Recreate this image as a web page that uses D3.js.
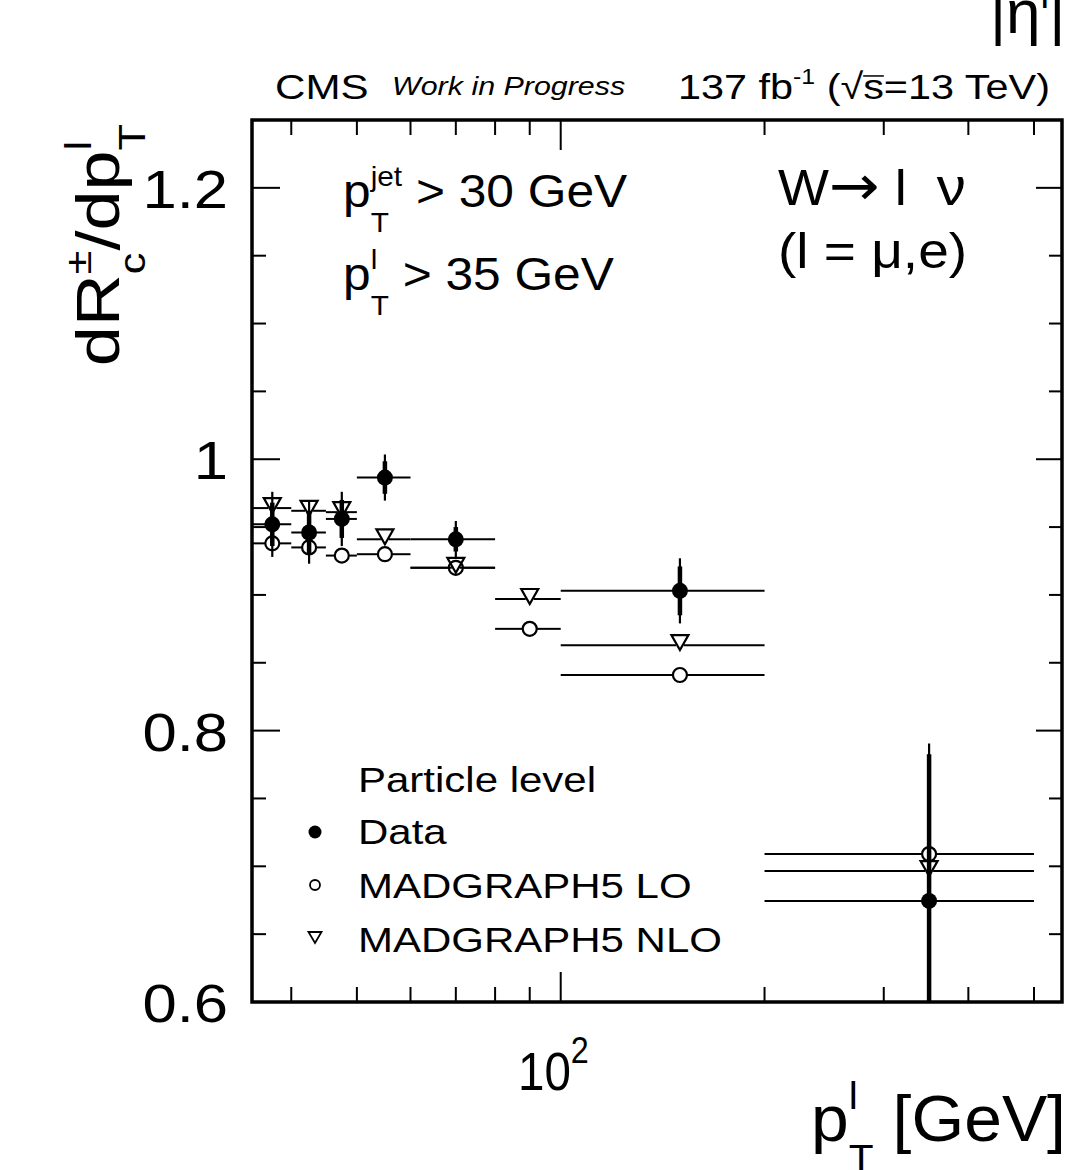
<!DOCTYPE html>
<html><head><meta charset="utf-8">
<script src="https://cdn.jsdelivr.net/npm/d3@7"></script>
<style>
body{margin:0;background:#fff}
text{font-family:"Liberation Sans",Arial,Helvetica,sans-serif;fill:#000;white-space:pre}
</style>
</head><body>
<svg id="chart" width="1082" height="1170"></svg>
<script>
// ---------- data ----------
const mcLow  = [35, 40, 45, 50, 60, 80, 100, 200];
const mcHigh = [40, 45, 50, 60, 80, 100, 200, 500];
const loValues  = [0.938, 0.935, 0.929, 0.930, 0.920, 0.875, 0.841, 0.709];
const nloValues = [0.964, 0.962, 0.961, 0.941, 0.920, 0.897, 0.863, 0.6965];
const dataLow  = [35, 40, 45, 50, 60, 100, 200];
const dataHigh = [40, 45, 50, 60, 80, 200, 500];
const dataValues = [0.952, 0.946, 0.956, 0.9865, 0.941, 0.903, 0.6745];
const dataStat   = [0.016, 0.016, 0.014, 0.012, 0.009, 0.018, 0.108];
const dataTotal  = [0.024, 0.023, 0.020, 0.017, 0.0135, 0.024, 0.116];
const yMajorTicks = [0.6, 0.8, 1.0, 1.2];
const yTickLabels = ["0.6", "0.8", "1", "1.2"];
const yMinorTicks = [0.65, 0.7, 0.75, 0.85, 0.9, 0.95, 1.05, 1.1, 1.15];
const xMajorTicks = [100];
const xMinorTicks = [40, 50, 60, 70, 80, 90, 200, 300, 400, 500];
const legendTitle = "Particle level";
const legendLabels = ["Data", "MADGRAPH5 LO", "MADGRAPH5 NLO"];

// ---------- layout ----------
const L = 252, R = 1062, T = 120, B = 1002;
const svg = d3.select("#chart");
const x = d3.scaleLog().domain([35, 550]).range([L, R]);
const y = d3.scaleLinear().domain([0.6, 1.25]).range([B, T]);

// rich text helper: parts are strings, {text, family, overline, scale} or {sub, sup}
function rich(x0, y0, parts, size, opts = {}) {
  const sx = opts.sx || 1;
  const g = svg.append("g");
  const inner = g.append("g");
  let cx = 0;
  const ss = size * (opts.scriptScale || 0.62);
  parts.forEach(p => {
    if (typeof p === "string" || p.text !== undefined) {
      const s = typeof p === "string" ? p : p.text;
      const t = inner.append("text").attr("x", cx).attr("y", 0)
        .attr("font-size", size * (p.scale || 1)).text(s);
      if (p.family) t.style("font-family", p.family);
      if (opts.italic) t.attr("font-style", "italic");
      const w = t.node().getComputedTextLength();
      if (p.overline) {
        inner.append("line").attr("x1", cx).attr("x2", cx + w)
          .attr("y1", -size * 0.64).attr("y2", -size * 0.64)
          .attr("stroke", "#000").attr("stroke-width", 1.5);
      }
      cx += w;
    } else {
      let w = 0;
      if (p.sup !== undefined) {
        const t = inner.append("text").attr("x", cx).attr("y", -size * (opts.supRaise || 0.45))
          .attr("font-size", ss).text(p.sup);
        w = Math.max(w, t.node().getComputedTextLength());
      }
      if (p.sub !== undefined) {
        const t = inner.append("text").attr("x", cx).attr("y", size * (opts.subDrop || 0.5))
          .attr("font-size", ss).text(p.sub);
        w = Math.max(w, t.node().getComputedTextLength());
      }
      cx += w + (p.pad || 0);
    }
  });
  const off = opts.anchor === "end" ? -cx : opts.anchor === "middle" ? -cx / 2 : 0;
  inner.attr("transform", `translate(${off},0)`);
  g.attr("transform", `translate(${x0},${y0}) scale(${sx},1)` + (opts.rotate ? ` rotate(${opts.rotate})` : ""));
  return g;
}

// ---------- frame & ticks ----------
const axes = svg.append("g").attr("stroke", "#000").attr("fill", "none");
const tk = (x1, y1, x2, y2, w) => axes.append("line").attr("x1", x1).attr("y1", y1)
  .attr("x2", x2).attr("y2", y2).attr("stroke-width", w || 2);

xMajorTicks.forEach(v => { tk(x(v), B, x(v), B - 30); tk(x(v), T, x(v), T + 30); });
xMinorTicks.forEach(v => { tk(x(v), B, x(v), B - 15); tk(x(v), T, x(v), T + 15); });
yMajorTicks.forEach(v => { tk(L, y(v), L + 28, y(v)); tk(R, y(v), R - 26, y(v)); });
yMinorTicks.forEach(v => { tk(L, y(v), L + 14, y(v)); tk(R, y(v), R - 13, y(v)); });
axes.append("rect").attr("x", L).attr("y", T).attr("width", R - L).attr("height", B - T)
  .attr("stroke-width", 3.5);

// ---------- tick labels ----------
yMajorTicks.forEach((v, i) => {
  rich(228, y(v) + 20, [yTickLabels[i]], 54, { anchor: "end", sx: 1.14 });
});
rich(518, 1090, ["10", { sup: "2" }], 54, { sx: 0.88, supRaise: 0.5, scriptScale: 0.68 });

// ---------- axis titles ----------
rich(1066, 1141, ["p", { sub: "T", sup: "l" }, " [GeV]"], 64,
  { anchor: "end", sx: 1.06, subDrop: 0.48, supRaise: 0.5, scriptScale: 0.6 });
rich(119, 124, ["dR", { sub: "c", sup: "\u00b1" }, "/dp", { sub: "T", sup: "l" }], 72,
  { anchor: "end", rotate: -90, sx: 0.86, subDrop: 0.42, supRaise: 0.45, scriptScale: 0.6 });

// ---------- header ----------
rich(275, 99, ["CMS"], 36, { sx: 1.17 });
rich(392, 95, ["Work in Progress"], 26, { sx: 1.17, italic: true });
rich(1050, 99, ["137 fb", { sup: "-1" }, " (\u221a", { text: "s", overline: true }, "=13 TeV)"], 36,
  { anchor: "end", sx: 1.15, supRaise: 0.42, scriptScale: 0.6 });
rich(990, 33, ["|\u03b7", { sup: "l" }, "|"], 62, { sx: 1.0, supRaise: 0.4 });

// ---------- annotations ----------
rich(343, 207, ["p", { sub: "T", sup: "jet" }, " > 30 GeV"], 46, { sx: 1.08, subDrop: 0.55, supRaise: 0.45, scriptScale: 0.6 });
rich(343, 290, ["p", { sub: "T", sup: "l" }, " > 35 GeV"], 46, { sx: 1.08, subDrop: 0.55, supRaise: 0.45, scriptScale: 0.6 });
rich(778, 205, ["W", { text: "\u2192", family: "DejaVu Sans", scale: 1.12 }, " l  ", { text: "\u03bd", scale: 1.08 }], 50, { sx: 1.08 });
rich(778, 268, ["(l = \u03bc,e)"], 50, { sx: 1.1 });

// ---------- data marks ----------
svg.append("clipPath").attr("id", "clip").append("rect")
  .attr("x", L).attr("y", T).attr("width", R - L).attr("height", B - T);
const plot = svg.append("g").attr("clip-path", "url(#clip)");
const mid = (a, b) => (a + b) / 2;
const tri = (cx, cy, hw, up, dn) => `M${cx - hw},${cy - up}L${cx + hw},${cy - up}L${cx},${cy + dn}Z`;

function drawMC(values, shape) {
  values.forEach((v, i) => {
    const cx = x(mid(mcLow[i], mcHigh[i])), cy = y(v);
    const gap = shape === "circle" ? 7 : 4;
    plot.append("line").attr("x1", x(mcLow[i])).attr("x2", cx - gap).attr("y1", cy).attr("y2", cy)
      .attr("stroke", "#000").attr("stroke-width", 2);
    plot.append("line").attr("x1", cx + gap).attr("x2", x(mcHigh[i])).attr("y1", cy).attr("y2", cy)
      .attr("stroke", "#000").attr("stroke-width", 2);
    if (shape === "circle") {
      plot.append("circle").attr("cx", cx).attr("cy", cy).attr("r", 7)
        .attr("fill", "none").attr("stroke", "#000").attr("stroke-width", 2.2);
    } else {
      plot.append("path").attr("d", tri(cx, cy, 8.5, 10, 5))
        .attr("fill", "none").attr("stroke", "#000").attr("stroke-width", 2.2);
    }
  });
}
drawMC(loValues, "circle");
drawMC(nloValues, "triangle");

dataValues.forEach((v, i) => {
  const cx = x(mid(dataLow[i], dataHigh[i])), cy = y(v);
  plot.append("line").attr("x1", x(dataLow[i])).attr("x2", x(dataHigh[i])).attr("y1", cy).attr("y2", cy)
    .attr("stroke", "#000").attr("stroke-width", 2);
  plot.append("line").attr("x1", cx).attr("x2", cx).attr("y1", y(v - dataTotal[i])).attr("y2", y(v + dataTotal[i]))
    .attr("stroke", "#000").attr("stroke-width", 2.2);
  plot.append("line").attr("x1", cx).attr("x2", cx).attr("y1", y(v - dataStat[i])).attr("y2", y(v + dataStat[i]))
    .attr("stroke", "#000").attr("stroke-width", 4.5);
  plot.append("circle").attr("cx", cx).attr("cy", cy).attr("r", 8).attr("fill", "#000");
});

// ---------- legend ----------
rich(358, 792, [legendTitle], 35, { sx: 1.2 });
const legY = [844, 898, 952];
legendLabels.forEach((lab, i) => rich(358, legY[i], [lab], 35, { sx: 1.2 }));
svg.append("circle").attr("cx", 315).attr("cy", legY[0] - 12).attr("r", 6.5).attr("fill", "#000");
svg.append("circle").attr("cx", 315).attr("cy", legY[1] - 13).attr("r", 5)
  .attr("fill", "none").attr("stroke", "#000").attr("stroke-width", 1.8);
svg.append("path").attr("d", tri(315, legY[2] - 14, 6.5, 6, 5))
  .attr("fill", "none").attr("stroke", "#000").attr("stroke-width", 1.8);
</script>
</body></html>
